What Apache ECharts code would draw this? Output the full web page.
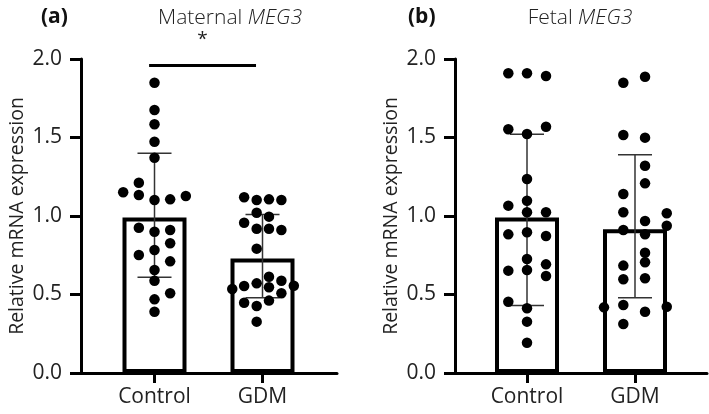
<!DOCTYPE html>
<html>
<head>
<meta charset="utf-8">
<script src="https://cdn.jsdelivr.net/npm/echarts@6/dist/echarts.min.js"></script>
<style>
	html, body { margin: 0; padding: 0; background: #fff; }
	#chart { width: 709px; height: 414px; }
</style>
</head>
<body>
<div id="chart"></div>
<script>
'use strict';

// groups on the x axis (Control = 1, GDM = 2)
var groups = ['Control', 'GDM'];
var yTicks = [0, 0.5, 1.0, 1.5, 2.0];

// (a) Maternal MEG3 : mean and error bar ends
var matMean = [0.99, 0.73];
var matLow = [0.61, 0.48];
var matHigh = [1.40, 1.01];
var matCtrl = [1.849, 1.675, 1.584, 1.473, 1.371, 1.212, 1.151, 1.134, 1.102, 1.106, 1.127, 0.925,
	0.900, 0.911, 0.826, 0.783, 0.752, 0.711, 0.656, 0.588, 0.508, 0.469, 0.390];
var matCtrlJit = [0, 0, 0, 0, 0, -0.145, -0.29, -0.145, 0, 0.145, 0.29, -0.145,
	0, 0.145, 0.145, 0, -0.145, 0.145, 0, 0, 0.145, 0, 0];
var matGdm = [1.119, 1.102, 1.106, 1.102, 1.021, 0.996, 0.957, 0.919, 0.919, 0.911, 0.792, 0.613,
	0.588, 0.535, 0.554, 0.571, 0.546, 0.556, 0.508, 0.448, 0.427, 0.461, 0.327];
var matGdmJit = [-0.17, -0.054, 0.06, 0.175, -0.054, 0.06, -0.17, -0.054, 0.06, 0.175, -0.054, 0.06,
	0.175, -0.28, -0.17, -0.054, 0.06, 0.29, 0.175, -0.17, -0.054, 0.06, -0.054];
// significance bar: x from, x to, height
var sigBar = [0.95, 1.94, 1.96];

// (b) Fetal MEG3
var fetMean = [0.99, 0.915];
var fetLow = [0.43, 0.48];
var fetHigh = [1.52, 1.39];
var fetCtrl = [1.909, 1.909, 1.892, 1.552, 1.522, 1.569, 1.236, 1.097, 1.066, 1.024, 1.024, 0.883,
	0.896, 0.873, 0.726, 0.652, 0.656, 0.692, 0.618, 0.454, 0.412, 0.327, 0.193];
var fetCtrlJit = [-0.173, 0, 0.176, -0.173, 0, 0.176, 0, 0, -0.173, 0, 0.176, -0.173,
	0, 0.176, 0, -0.173, 0, 0.176, 0.176, -0.173, 0, 0, 0];
var fetGdm = [1.849, 1.887, 1.516, 1.499, 1.320, 1.208, 1.140, 1.024, 1.017, 0.968, 0.938, 0.911,
	0.883, 0.766, 0.705, 0.684, 0.597, 0.603, 0.418, 0.433, 0.422, 0.390, 0.312];
var fetGdmJit = [-0.108, 0.093, -0.108, 0.093, 0.093, 0.093, -0.108, -0.108, 0.294, 0.093, 0.294, -0.108,
	0.093, 0.093, 0.093, -0.108, -0.108, 0.093, -0.287, -0.108, 0.294, 0.093, -0.108];


var FONT = '"Open Sans", "Liberation Sans", sans-serif';
var TXT = '#222';

/**
 * dots for one group
 */
function dots(pos, vals, jit){
	return vals.map(function(v, i){ return [pos + jit[i], v]; });
}

function xAxisOf(idx, min, max){
	return {
		gridIndex: idx, type: 'value', min: min, max: max,
		axisLine: { show: true, onZero: false, lineStyle: { color: '#000', width: 3 } },
		axisTick: { show: true, customValues: [1, 2], length: 10, lineStyle: { color: '#000', width: 3 } },
		axisLabel: {
			customValues: [1, 2], margin: 14, fontSize: 21, fontFamily: FONT, color: TXT,
			formatter: function(v){ return groups[Math.round(v) - 1]; }
		},
		splitLine: { show: false },
	};
}

function yAxisOf(idx){
	return {
		gridIndex: idx, type: 'value', min: yTicks[0], max: yTicks[yTicks.length - 1], interval: 0.5,
		name: 'Relative mRNA expression', nameLocation: 'middle', nameGap: 54,
		nameTextStyle: { fontSize: 19.5, fontFamily: FONT, color: TXT },
		axisLine: { show: true, onZero: false, lineStyle: { color: '#000', width: 3 } },
		axisTick: { show: true, length: 11, lineStyle: { color: '#000', width: 3 } },
		axisLabel: {
			margin: 19, fontSize: 21, fontFamily: FONT, color: TXT,
			formatter: function(v){ return v.toFixed(1); }
		},
		splitLine: { show: false },
	};
}

function renderErr(params, api){
	var x = api.value(0),
			lo = api.coord([x, api.value(1)]),
			hi = api.coord([x, api.value(2)]),
			w = 17,
			st = { stroke: '#333', lineWidth: 1.5 };
	return {
		type: 'group',
		children: [
			{ type: 'line', shape: { x1: hi[0], y1: hi[1], x2: lo[0], y2: lo[1] }, style: st },
			{ type: 'line', shape: { x1: hi[0] - w, y1: hi[1], x2: hi[0] + w, y2: hi[1] }, style: st },
			{ type: 'line', shape: { x1: lo[0] - w, y1: lo[1], x2: lo[0] + w, y2: lo[1] }, style: st },
		],
	};
}

function panelSeries(idx, mean, low, high, ctrl, ctrlJit, gdm, gdmJit){
	return [
		{
			type: 'bar', xAxisIndex: idx, yAxisIndex: idx, barWidth: 64, z: 2,
			data: [[1, mean[0]], [2, mean[1]]],
			itemStyle: { color: '#fff', borderColor: '#000', borderWidth: 4 },
		},
		{
			type: 'custom', xAxisIndex: idx, yAxisIndex: idx, z: 3,
			renderItem: renderErr, encode: { x: 0, y: [1, 2] },
			data: [[1, low[0], high[0]], [2, low[1], high[1]]],
		},
		{
			type: 'scatter', xAxisIndex: idx, yAxisIndex: idx, z: 4, symbolSize: 10.5,
			itemStyle: { color: '#000', opacity: 1 },
			data: dots(1, ctrl, ctrlJit).concat(dots(2, gdm, gdmJit)),
		},
	];
}

var series = panelSeries(0, matMean, matLow, matHigh, matCtrl, matCtrlJit, matGdm, matGdmJit)
	.concat(panelSeries(1, fetMean, fetLow, fetHigh, fetCtrl, fetCtrlJit, fetGdm, fetGdmJit));

series[2].markLine = {
	silent: true, symbol: ['none', 'none'],
	lineStyle: { color: '#000', width: 3, type: 'solid' },
	label: { show: true, position: 'middle', formatter: '*', distance: 16, fontSize: 19, fontFamily: FONT, color: TXT },
	data: [[{ coord: [sigBar[0], sigBar[2]] }, { coord: [sigBar[1], sigBar[2]] }]],
};

function titleOf(lead, name, left){
	return {
		text: '{r|' + lead + ' }{i|' + name + '}', left: left, top: 3, textAlign: 'center',
		textStyle: {
			rich: {
				r: { fontSize: 21, fontFamily: FONT, color: TXT, fontWeight: 300 },
				i: { fontSize: 21, fontFamily: FONT, color: TXT, fontWeight: 300, fontStyle: 'italic' },
			},
		},
	};
}

var panelLabel = { fontSize: 21, fontWeight: 'bold', fontFamily: FONT, color: '#111' };

var option = {
	animation: false,
	backgroundColor: '#fff',
	title: [
		{ text: '(a)', left: 36, top: 2, textStyle: panelLabel },
		titleOf('Maternal', 'MEG3', 225),
		{ text: '(b)', left: 403, top: 2, textStyle: panelLabel },
		titleOf('Fetal', 'MEG3', 575),
	],
	grid: [
		{ left: 81, top: 59, width: 256, height: 314 },
		{ left: 455, top: 59, width: 252, height: 314 },
	],
	xAxis: [xAxisOf(0, 0.3194, 2.6898), xAxisOf(1, 0.3333, 2.6667)],
	yAxis: [yAxisOf(0), yAxisOf(1)],
	series: series,
};

echarts.init(document.getElementById('chart')).setOption(option);
</script>
</body>
</html>
